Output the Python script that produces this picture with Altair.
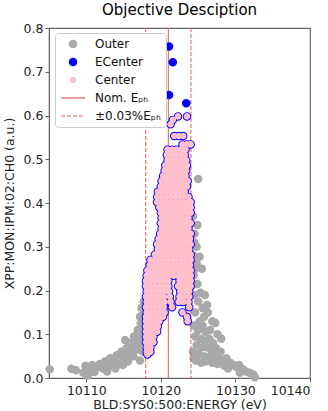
import altair as alt
import pandas as pd

# Shots outside the ±0.03% energy band: beam energy (eV) and IPM signal (a.u.)
outer_energy = [
    10105.1, 10108.0, 10108.6, 10109.6, 10109.9, 10110.2, 10110.4, 10110.8, 10111.1, 10111.4,
    10111.8, 10112.2, 10112.5, 10112.9, 10113.2, 10113.5, 10113.8, 10114.1, 10114.4, 10114.7,
    10115.0, 10115.2, 10115.4, 10115.7, 10115.9, 10116.2, 10116.4, 10116.7, 10116.9, 10117.1,
    10117.3, 10117.5, 10117.6, 10117.4, 10117.7, 10117.2, 10116.8, 10116.3, 10117.0, 10117.5,
    10115.6, 10114.9, 10113.9, 10112.8, 10117.2, 10117.6,
    10124.3, 10125.0, 10124.8, 10125.2, 10125.5, 10124.8, 10124.5, 10124.4, 10124.9, 10125.3,
    10124.5, 10125.0, 10125.6, 10126.2, 10126.3, 10125.8, 10125.2, 10124.6, 10124.4, 10125.0,
    10125.6, 10126.0, 10126.6, 10127.3, 10124.6, 10125.3, 10125.9, 10126.5, 10127.0, 10124.8,
    10125.5, 10126.2, 10126.8, 10127.4, 10128.0, 10125.0, 10125.8, 10126.5, 10127.2, 10127.8,
    10128.3, 10128.8, 10129.3, 10129.7, 10130.1, 10130.5, 10131.0, 10131.4, 10131.9, 10132.4,
    10132.6, 10129.0, 10128.5, 10127.6, 10126.9, 10126.0, 10130.6, 10128.1, 10127.6, 10126.9,
    10125.9, 10124.4, 10124.6, 10124.3, 10124.4, 10124.3, 10124.7, 10125.4, 10124.9, 10124.5,
]
outer_signal = [
    0.020, 0.021, 0.018, 0.012, 0.028, 0.006, 0.020, 0.030, 0.014, 0.025,
    0.032, 0.022, 0.038, 0.030, 0.045, 0.028, 0.040, 0.052, 0.035, 0.060,
    0.045, 0.087, 0.068, 0.055, 0.080, 0.070, 0.095, 0.085, 0.110, 0.100,
    0.125, 0.115, 0.145, 0.160, 0.175, 0.140, 0.065, 0.050, 0.075, 0.090,
    0.038, 0.030, 0.022, 0.015, 0.040, 0.060,
    0.370, 0.455, 0.300, 0.277, 0.250, 0.262, 0.330, 0.235, 0.215, 0.195,
    0.190, 0.175, 0.160, 0.167, 0.150, 0.140, 0.130, 0.150, 0.120, 0.110,
    0.120, 0.105, 0.110, 0.126, 0.095, 0.090, 0.085, 0.090, 0.080, 0.075,
    0.070, 0.070, 0.062, 0.068, 0.060, 0.055, 0.050, 0.048, 0.050, 0.045,
    0.040, 0.045, 0.035, 0.030, 0.025, 0.030, 0.020, 0.015, 0.012, 0.008,
    0.002, 0.022, 0.028, 0.032, 0.035, 0.038, 0.012, 0.090, 0.100, 0.130,
    0.190, 0.280, 0.250, 0.215, 0.045, 0.060, 0.040, 0.035, 0.350, 0.310,
]

# Shots inside the band, one row per signal level: (signal, energies)
center_rows = [
    (0.598, [10122.3, 10123.5]),
    (0.590, [10121.6]),
    (0.580, [10121.3]),
    (0.553, [10121.8, 10122.4, 10123.0]),
    (0.534, [10122.9, 10123.5, 10124.0]),
    (0.522, [10120.9, 10121.5, 10122.1, 10122.7, 10123.3]),
    (0.510, [10120.8, 10121.4, 10122.0, 10122.6, 10123.2]),
    (0.498, [10120.9, 10121.5, 10122.1, 10122.7, 10123.4]),
    (0.486, [10120.6, 10121.2, 10121.8, 10122.4, 10123.0, 10123.5]),
    (0.474, [10120.5, 10121.1, 10121.7, 10122.3, 10122.9, 10123.4]),
    (0.462, [10120.3, 10120.9, 10121.5, 10122.1, 10122.7, 10123.3]),
    (0.450, [10120.1, 10120.7, 10121.3, 10121.9, 10122.5, 10123.1, 10123.6]),
    (0.438, [10120.0, 10120.6, 10121.2, 10121.8, 10122.4, 10123.0, 10123.5]),
    (0.426, [10119.6, 10120.2, 10120.8, 10121.4, 10122.0, 10122.6, 10123.2]),
    (0.414, [10119.5, 10120.1, 10120.7, 10121.3, 10121.9, 10122.5, 10123.1, 10123.7]),
    (0.402, [10119.5, 10120.1, 10120.7, 10121.3, 10121.9, 10122.5, 10123.1, 10123.7, 10124.0]),
    (0.390, [10119.8, 10120.4, 10121.0, 10121.6, 10122.2, 10122.8, 10123.4, 10124.0]),
    (0.378, [10120.0, 10120.6, 10121.2, 10121.8, 10122.4, 10123.0, 10123.6, 10124.0]),
    (0.366, [10120.1, 10120.7, 10121.3, 10121.9, 10122.5, 10123.1, 10123.7]),
    (0.354, [10120.0, 10120.6, 10121.2, 10121.8, 10122.4, 10123.0, 10123.6, 10124.0]),
    (0.342, [10120.1, 10120.7, 10121.3, 10121.9, 10122.5, 10123.1, 10123.7]),
    (0.330, [10119.9, 10120.5, 10121.1, 10121.7, 10122.3, 10122.9, 10123.5, 10124.0]),
    (0.318, [10119.7, 10120.3, 10120.9, 10121.5, 10122.1, 10122.7, 10123.3, 10123.9]),
    (0.306, [10119.5, 10120.1, 10120.7, 10121.3, 10121.9, 10122.5, 10123.1, 10123.7, 10124.0]),
    (0.294, [10119.6, 10120.2, 10120.8, 10121.4, 10122.0, 10122.6, 10123.2, 10123.8]),
    (0.282, [10119.2, 10119.8, 10120.4, 10121.0, 10121.6, 10122.2, 10122.8, 10123.4, 10124.0]),
    (0.270, [10118.6, 10119.2, 10119.8, 10120.4, 10121.0, 10121.6, 10122.2, 10122.8, 10123.4, 10124.0]),
    (0.258, [10118.5, 10119.1, 10119.7, 10120.3, 10120.9, 10121.5, 10122.1, 10122.7, 10123.3, 10123.9]),
    (0.246, [10118.2, 10118.8, 10119.4, 10120.0, 10120.6, 10121.2, 10121.8, 10122.4, 10123.0, 10123.6, 10124.0]),
    (0.234, [10118.1, 10118.7, 10119.3, 10119.9, 10120.5, 10121.1, 10121.7, 10122.3, 10122.9, 10123.5, 10124.0]),
    (0.222, [10118.0, 10118.6, 10119.2, 10119.8, 10120.4, 10121.0, 10122.5, 10123.1, 10123.7, 10124.0]),
    (0.210, [10118.0, 10118.6, 10119.2, 10119.8, 10120.4, 10121.0, 10122.3, 10122.9, 10123.5, 10124.0]),
    (0.198, [10118.1, 10118.7, 10119.3, 10119.9, 10120.5, 10121.1, 10122.6, 10123.2, 10123.8]),
    (0.186, [10118.0, 10118.6, 10119.2, 10119.8, 10120.4, 10121.2, 10122.5, 10123.1, 10123.8]),
    (0.174, [10118.1, 10118.7, 10119.3, 10119.9, 10120.5, 10121.3, 10122.4, 10123.0, 10123.7]),
    (0.162, [10118.0, 10118.6, 10119.2, 10119.8, 10120.4, 10121.5, 10123.8]),
    (0.150, [10118.1, 10118.7, 10119.3, 10119.9, 10120.5, 10122.9]),
    (0.140, [10118.0, 10118.6, 10119.2, 10119.8, 10120.3, 10123.5]),
    (0.130, [10118.0, 10118.6, 10119.2, 10119.8, 10123.6]),
    (0.118, [10118.0, 10118.5, 10119.1, 10119.6]),
    (0.106, [10118.0, 10118.5, 10119.0, 10119.5]),
    (0.094, [10118.0, 10118.5, 10119.0]),
    (0.082, [10118.0, 10118.5, 10119.0]),
    (0.070, [10118.1, 10118.6]),
    (0.060, [10118.1, 10118.6]),
    (0.054, [10118.2]),
]

# Bright shots flagged only as ECenter
ecenter_energy = [10121.1, 10121.6, 10121.1, 10123.4]
ecenter_signal = [0.758, 0.722, 0.647, 0.628]

nominal_energy = 10121.0
band_fraction = 0.0003

series_names = ["Outer", "ECenter", "Center", "Nom. Eₚₕ", "±0.03%Eₚₕ"]
series_colors = ["#a9a9a9", "#0000ff", "#ffc0cb", "#e25c5c", "#e25c5c"]
line_color = "#e25c5c"

# Symbol outlines in Vega's unit space (scaled by sqrt(size)/2 = 5 px per unit at size 100)
big_dot = "M0.85,0A0.85,0.85,0,1,1,-0.85,0A0.85,0.85,0,1,1,0.85,0Z"
small_dot = "M0.66,0A0.66,0.66,0,1,1,-0.66,0A0.66,0.66,0,1,1,0.66,0Z"
solid_stroke = "M-2.4,-0.12H2.4V0.12H-2.4Z"
dashed_stroke = ("M-2.4,-0.12H-1.6V0.12H-2.4Z M-1.2,-0.12H-0.4V0.12H-1.2Z "
                 "M0,-0.12H0.8V0.12H0Z M1.2,-0.12H2.0V0.12H1.2Z")
series_shapes = [big_dot, big_dot, small_dot, solid_stroke, dashed_stroke]

center_energy = [e for _, row in center_rows for e in row]
center_signal = [s for s, row in center_rows for _ in row]

shots = pd.DataFrame({
    "energy": outer_energy + center_energy + ecenter_energy + center_energy,
    "signal": outer_signal + center_signal + ecenter_signal + center_signal,
    "series": (["Outer"] * len(outer_energy)
               + ["ECenter"] * (len(center_energy) + len(ecenter_energy))
               + ["Center"] * len(center_energy)),
})

half_band = nominal_energy * band_fraction
band_lines = pd.DataFrame({
    "energy": [nominal_energy - half_band, nominal_energy, nominal_energy + half_band],
    "style": ["band", "nominal", "band"],
})

font = "DejaVu Sans"

legend = alt.Legend(
    title=None,
    orient="none",
    legendX=6,
    legendY=5,
    direction="vertical",
    padding=5,
    strokeColor="#cccccc",
    fillColor="white",
    cornerRadius=3,
    labelFont=font,
    labelFontSize=12,
    labelColor="#111111",
    symbolSize=100,
    symbolOffset=7,
    labelOffset=16,
    rowPadding=6,
    symbolStrokeWidth=0,
    symbolOpacity=1,
)

x_enc = alt.X(
    "energy:Q",
    scale=alt.Scale(domain=[10105, 10140], nice=False, zero=False),
    axis=alt.Axis(values=[10110, 10120, 10130, 10140], format="d",
                  title="BLD:SYS0:500:ENERGY (eV)"),
)
y_enc = alt.Y(
    "signal:Q",
    scale=alt.Scale(domain=[0, 0.8], nice=False),
    axis=alt.Axis(values=[0, 0.1, 0.2, 0.3, 0.4, 0.5, 0.6, 0.7, 0.8], format=".1f",
                  title="XPP:MON:IPM:02:CH0 (a.u.)", titleX=-33),
)
color_enc = alt.Color(
    "series:N",
    scale=alt.Scale(domain=series_names, range=series_colors),
    legend=legend,
)
shape_enc = alt.Shape(
    "series:N",
    scale=alt.Scale(domain=series_names, range=series_shapes),
    legend=legend,
)

base = alt.Chart(shots)


def scatter(name):
    return base.transform_filter(alt.datum.series == name).mark_point(
        filled=True, size=100, opacity=1, strokeWidth=0
    ).encode(x=x_enc, y=y_enc, color=color_enc, shape=shape_enc)


rules = alt.Chart(band_lines).mark_rule(color=line_color, strokeWidth=1).encode(
    x=alt.X("energy:Q"),
    strokeDash=alt.StrokeDash(
        "style:N",
        scale=alt.Scale(domain=["nominal", "band"], range=[[1, 0], [4, 2]]),
        legend=None,
    ),
)

chart = alt.layer(
    scatter("Outer"),
    rules,
    scatter("ECenter"),
    scatter("Center"),
).properties(
    width=261,
    height=350,
    background="white",
    autosize=alt.AutoSizeParams(type="none"),
    padding={"left": 49, "top": 28, "right": 18, "bottom": 33},
    title=alt.TitleParams(
        "Objective Desciption", font=font, fontSize=15, fontWeight="normal",
        color="black", offset=4, anchor="middle",
    ),
).configure_view(
    stroke="#666666", strokeWidth=1.2
).configure_axis(
    grid=False,
    labelFont=font,
    labelFontSize=12.5,
    labelColor="#222222",
    titleFont=font,
    titleFontSize=12.5,
    titleFontWeight="normal",
    titleColor="#222222",
    domainColor="#666666",
    tickColor="#666666",
    tickSize=4,
    labelPadding=2,
).configure_axisX(
    titlePadding=2,
)

chart.save("out.html", embed_options={"renderer": "svg", "actions": False})
